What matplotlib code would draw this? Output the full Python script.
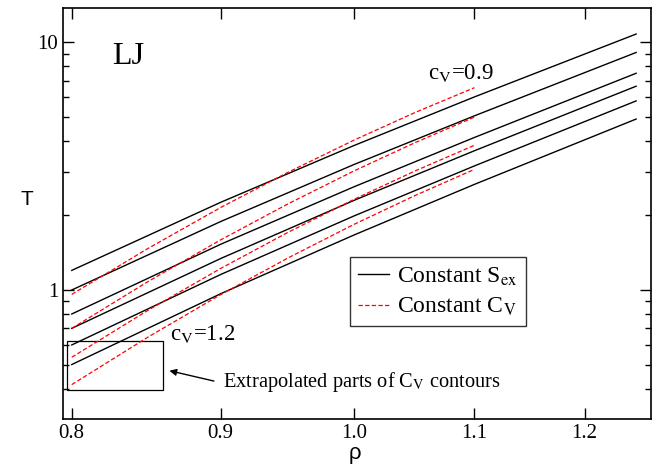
import matplotlib
matplotlib.use("Agg")
import matplotlib.pyplot as plt
from matplotlib.ticker import FixedLocator, NullLocator, NullFormatter, FixedFormatter
from matplotlib.patches import Rectangle

# constant excess entropy curves (black), read at these densities
rho_s = [0.8, 0.9, 1.0, 1.1, 1.25]
T_s = [
    [1.2, 2.26, 3.83, 6.02, 10.8],
    [1.0, 1.89, 3.21, 5.05, 9.1],
    [0.8, 1.53, 2.61, 4.13, 7.5],
    [0.7, 1.34, 2.30, 3.65, 6.65],
    [0.6, 1.155, 1.99, 3.17, 5.8],
    [0.5, 0.966, 1.667, 2.67, 4.9],
]

# constant C_V curves (red dashed), c_V = 0.9 ... 1.2
rho_c = [0.8, 0.85, 0.9, 0.95, 1.0, 1.05, 1.1]
T_c = [
    [0.96, 1.475, 2.153, 3.002, 4.027, 5.22, 6.56],
    [0.70, 1.084, 1.594, 2.239, 3.024, 3.945, 4.99],
    [0.535, 0.830, 1.222, 1.718, 2.322, 3.032, 3.84],
    [0.415, 0.647, 0.958, 1.354, 1.840, 2.413, 3.07],
]

x_ticks = [0.8, 0.9, 1.0, 1.1, 1.2]
x_labels = ["0.8", "0.9", "1.0", "1.1", "1.2"]
y_major = [1, 10]
y_minor = [0.4, 0.5, 0.6, 0.7, 0.8, 0.9, 2, 3, 4, 5, 6, 7, 8, 9]

plt.rcParams["font.family"] = "Liberation Serif"
plt.rcParams["mathtext.fontset"] = "stix"

fig = plt.figure(figsize=(6.62, 4.70), dpi=100)
ax = fig.add_axes([0.0952, 0.1085, 0.8882, 0.8745])

for i, T in enumerate(T_s):
    ax.plot(rho_s, T, color="black", lw=1.0,
            label=r"Constant S$_\mathrm{ex}$" if i == 0 else None)
for i, T in enumerate(T_c):
    ax.plot(rho_c, T, color="red", lw=0.9, dashes=(3.5, 1.8),
            label=r"Constant C$_\mathrm{V}$" if i == 0 else None)

ax.set_xscale("log")
ax.set_yscale("log")
ax.set_xlim(0.7945, 1.2648)
ax.set_ylim(0.3014, 13.76)

ax.xaxis.set_major_locator(FixedLocator(x_ticks))
ax.xaxis.set_major_formatter(FixedFormatter(x_labels))
ax.xaxis.set_minor_locator(NullLocator())
ax.xaxis.set_minor_formatter(NullFormatter())
ax.yaxis.set_major_locator(FixedLocator(y_major))
ax.yaxis.set_major_formatter(FixedFormatter(["1", "10"]))
ax.yaxis.set_minor_locator(FixedLocator(y_minor))
ax.yaxis.set_minor_formatter(NullFormatter())

ax.tick_params(which="both", direction="in", top=True, right=True,
               labelsize=15, width=1.0)
ax.tick_params(which="major", length=8)
ax.tick_params(which="minor", length=4.3)
for s in ax.spines.values():
    s.set_linewidth(1.2)

ax.set_xlabel("ρ", fontsize=16, family="Liberation Sans", va="center")
ax.xaxis.set_label_coords(0.497, -0.085)
ax.set_ylabel("T", fontsize=15, family="Liberation Sans", rotation=0, va="center")
ax.yaxis.set_label_coords(-0.061, 0.533)

ax.text(0.8257, 8.17, "LJ", fontsize=23)
ax.text(1.0605, 7.11, r"c$_\mathrm{V}$=0.9", fontsize=16.5)
ax.text(0.8643, 0.628, r"c$_\mathrm{V}$=1.2", fontsize=16.5)

ax.add_patch(Rectangle((0.797, 0.395), 0.86 - 0.797, 0.624 - 0.395,
                       fill=False, ec="black", lw=0.9))
ax.annotate("", xy=(0.8624, 0.475), xytext=(0.8971, 0.4264),
            arrowprops=dict(arrowstyle="-|>", color="black", lw=1.0,
                            mutation_scale=10))
ax.text(0.9014, 0.4264, r"Extrapolated parts of C$_\mathrm{V}$ contours",
        fontsize=14.7, va="center")

leg = ax.legend(loc="upper left", bbox_to_anchor=(0.488, 0.394),
                borderaxespad=0, fontsize=17, frameon=True, fancybox=False,
                handlelength=1.3, handletextpad=0.35, borderpad=0.35,
                labelspacing=0.35)
leg.get_frame().set_edgecolor("black")
leg.get_frame().set_linewidth(1.0)

fig.savefig("out.png", dpi=100)
